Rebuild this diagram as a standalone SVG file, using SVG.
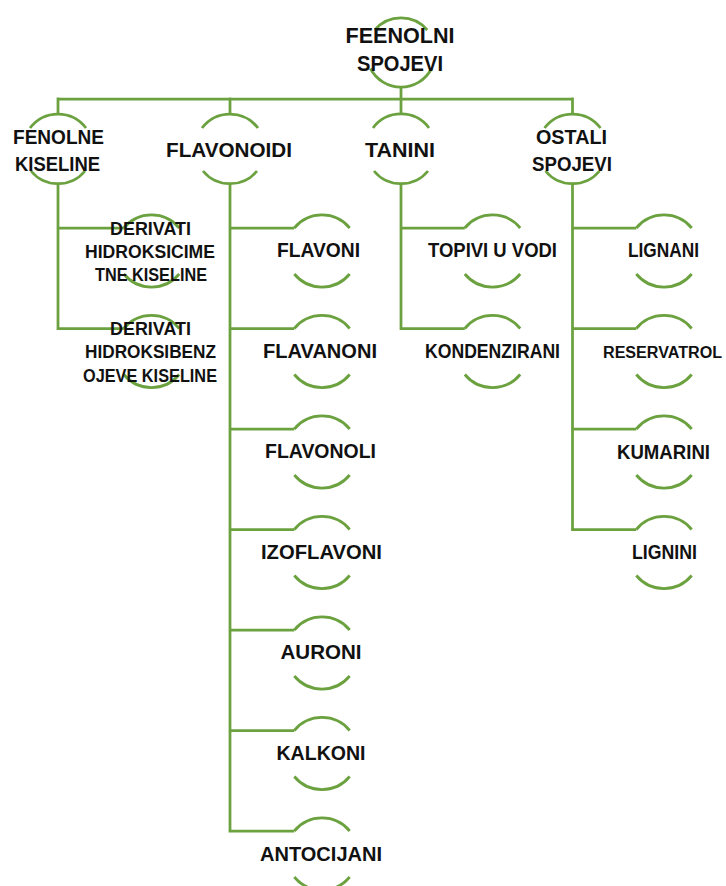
<svg xmlns="http://www.w3.org/2000/svg" width="726" height="886" viewBox="0 0 726 886">
<style>
.arc{fill:none;stroke:#6BA23F;stroke-width:2.75}
.conn{fill:none;stroke:#6BA23F;stroke-width:2.75}
text{font-family:"Liberation Sans",Arial,sans-serif;font-weight:bold;fill:#111;text-anchor:middle}
.r{font-size:22px}
.l1{font-size:21px}
.l2{font-size:20.5px}
.l3{font-size:17.5px}
</style>
<rect width="726" height="886" fill="#fff"/>
<g id="connectors">
<path class="conn" d="M401 87V99M58 99H573M58 97.6V114M230 97.6V114M401 97.6V114M572.5 97.6V114"/>
<path class="conn" d="M58 184V329.9M56.6 228H123.8M56.6 328.5H123.8"/>
<path class="conn" d="M230 184V832.4M228.6 228H294.3M228.6 328.5H294.3M228.6 429H294.3M228.6 529.5H294.3M228.6 630H294.3M228.6 730.5H294.3M228.6 831H294.3"/>
<path class="conn" d="M401 184V329.9M399.6 228H464.8M399.6 328.5H464.8"/>
<path class="conn" d="M572.5 184V530.9M571.1 228H636.3M571.1 328.5H636.3M571.1 429H636.3M571.1 529.5H636.3"/>
</g>
<g id="root">
<path class="arc" d="M374.8 30A34.5 34.5 0 0 1 427.2 30M370.4 68.5A34.5 34.5 0 0 0 431.6 68.5"/>
<text class="r" x="400" y="43" textLength="109" lengthAdjust="spacingAndGlyphs">FEENOLNI</text>
<text class="r" x="400" y="71" textLength="86" lengthAdjust="spacingAndGlyphs">SPOJEVI</text>
</g>
<g id="fenolne">
<path class="arc" d="M30 128A35 35 0 0 1 86 128M31 171A35 35 0 0 0 85 171"/>
<text class="l1" x="58.5" y="144" textLength="91" lengthAdjust="spacingAndGlyphs">FENOLNE</text>
<text class="l1" x="57.5" y="171" textLength="85" lengthAdjust="spacingAndGlyphs">KISELINE</text>
</g>
<g id="flavonoidi">
<path class="arc" d="M202 128A35 35 0 0 1 258 128M203 171A35 35 0 0 0 257 171"/>
<text class="l1" x="229" y="157" textLength="126" lengthAdjust="spacingAndGlyphs">FLAVONOIDI</text>
</g>
<g id="tanini">
<path class="arc" d="M373 128A35 35 0 0 1 429 128M374 171A35 35 0 0 0 428 171"/>
<text class="l1" x="400" y="157" textLength="70" lengthAdjust="spacingAndGlyphs">TANINI</text>
</g>
<g id="ostali">
<path class="arc" d="M544.5 128A35 35 0 0 1 600.5 128M545.5 171A35 35 0 0 0 599.5 171"/>
<text class="l1" x="571.5" y="144" textLength="71" lengthAdjust="spacingAndGlyphs">OSTALI</text>
<text class="l1" x="572" y="171" textLength="80" lengthAdjust="spacingAndGlyphs">SPOJEVI</text>
</g>
<g id="hidroksicimetne">
<path class="arc" d="M123.8 228A36 36 0 0 1 179.2 228M123.8 274A36 36 0 0 0 179.2 274"/>
<text class="l3" x="150.5" y="235" textLength="81" lengthAdjust="spacingAndGlyphs">DERIVATI</text>
<text class="l3" x="150" y="258" textLength="130" lengthAdjust="spacingAndGlyphs">HIDROKSICIME</text>
<text class="l3" x="151" y="281" textLength="112" lengthAdjust="spacingAndGlyphs">TNE KISELINE</text>
</g>
<g id="hidroksibenzojeve">
<path class="arc" d="M123.8 328.5A36 36 0 0 1 179.2 328.5M123.8 374.5A36 36 0 0 0 179.2 374.5"/>
<text class="l3" x="150.5" y="335" textLength="81" lengthAdjust="spacingAndGlyphs">DERIVATI</text>
<text class="l3" x="150.5" y="358" textLength="131" lengthAdjust="spacingAndGlyphs">HIDROKSIBENZ</text>
<text class="l3" x="150" y="382" textLength="134" lengthAdjust="spacingAndGlyphs">OJEVE KISELINE</text>
</g>
<g id="flavoni">
<path class="arc" d="M294.3 228A36 36 0 0 1 349.7 228M294.3 274A36 36 0 0 0 349.7 274"/>
<text class="l2" x="318.5" y="257" textLength="83" lengthAdjust="spacingAndGlyphs">FLAVONI</text>
</g>
<g id="flavanoni">
<path class="arc" d="M294.3 328.5A36 36 0 0 1 349.7 328.5M294.3 374.5A36 36 0 0 0 349.7 374.5"/>
<text class="l2" x="320" y="358" textLength="114" lengthAdjust="spacingAndGlyphs">FLAVANONI</text>
</g>
<g id="flavonoli">
<path class="arc" d="M294.3 429A36 36 0 0 1 349.7 429M294.3 475A36 36 0 0 0 349.7 475"/>
<text class="l2" x="320.5" y="458" textLength="111" lengthAdjust="spacingAndGlyphs">FLAVONOLI</text>
</g>
<g id="izoflavoni">
<path class="arc" d="M294.3 529.5A36 36 0 0 1 349.7 529.5M294.3 575.5A36 36 0 0 0 349.7 575.5"/>
<text class="l2" x="321.5" y="558.5" textLength="121" lengthAdjust="spacingAndGlyphs">IZOFLAVONI</text>
</g>
<g id="auroni">
<path class="arc" d="M294.3 630A36 36 0 0 1 349.7 630M294.3 676A36 36 0 0 0 349.7 676"/>
<text class="l2" x="321" y="659" textLength="81" lengthAdjust="spacingAndGlyphs">AURONI</text>
</g>
<g id="kalkoni">
<path class="arc" d="M294.3 730.5A36 36 0 0 1 349.7 730.5M294.3 776.5A36 36 0 0 0 349.7 776.5"/>
<text class="l2" x="321" y="759.5" textLength="89" lengthAdjust="spacingAndGlyphs">KALKONI</text>
</g>
<g id="antocijani">
<path class="arc" d="M294.3 831A36 36 0 0 1 349.7 831M294.3 877A36 36 0 0 0 349.7 877"/>
<text class="l2" x="321" y="861" textLength="122" lengthAdjust="spacingAndGlyphs">ANTOCIJANI</text>
</g>
<g id="topivi">
<path class="arc" d="M464.8 228A36 36 0 0 1 520.2 228M464.8 274A36 36 0 0 0 520.2 274"/>
<text class="l2" x="492.5" y="257" textLength="129" lengthAdjust="spacingAndGlyphs">TOPIVI U VODI</text>
</g>
<g id="kondenzirani">
<path class="arc" d="M464.8 328.5A36 36 0 0 1 520.2 328.5M464.8 374.5A36 36 0 0 0 520.2 374.5"/>
<text class="l2" x="492.5" y="358" textLength="135" lengthAdjust="spacingAndGlyphs">KONDENZIRANI</text>
</g>
<g id="lignani">
<path class="arc" d="M636.3 228A36 36 0 0 1 691.7 228M636.3 274A36 36 0 0 0 691.7 274"/>
<text class="l2" x="663.5" y="257" textLength="71" lengthAdjust="spacingAndGlyphs">LIGNANI</text>
</g>
<g id="reservatrol">
<path class="arc" d="M636.3 328.5A36 36 0 0 1 691.7 328.5M636.3 374.5A36 36 0 0 0 691.7 374.5"/>
<text x="662.5" y="358" font-size="16" textLength="119" lengthAdjust="spacingAndGlyphs">RESERVATROL</text>
</g>
<g id="kumarini">
<path class="arc" d="M636.3 429A36 36 0 0 1 691.7 429M636.3 475A36 36 0 0 0 691.7 475"/>
<text class="l2" x="663.5" y="458.5" textLength="93" lengthAdjust="spacingAndGlyphs">KUMARINI</text>
</g>
<g id="lignini">
<path class="arc" d="M636.3 529.5A36 36 0 0 1 691.7 529.5M636.3 575.5A36 36 0 0 0 691.7 575.5"/>
<text class="l2" x="664.5" y="559" textLength="65" lengthAdjust="spacingAndGlyphs">LIGNINI</text>
</g>
</svg>
